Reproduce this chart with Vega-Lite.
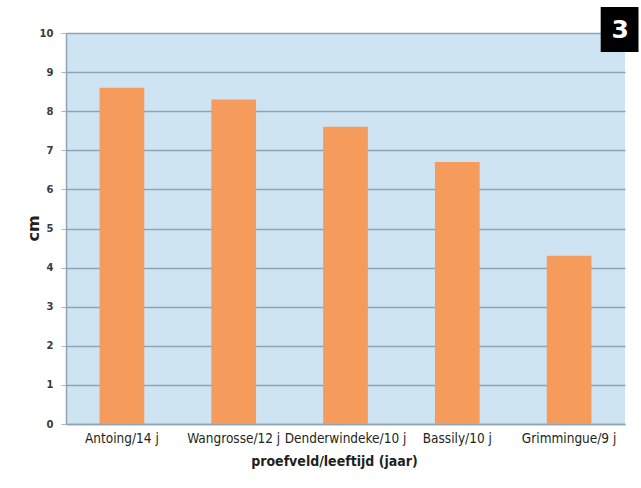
{
  "$schema": "https://vega.github.io/schema/vega-lite/v6.json",
  "width": 559,
  "height": 391,
  "autosize": {"type": "none"},
  "padding": {"left": 66, "top": 33, "right": 16, "bottom": 64},
  "background": "#ffffff",
  "config": {
    "view": {"fill": "#cfe4f3", "stroke": null}
  },
  "datasets": {
    "bars": [
      {"proefveld": "Antoing/14 j", "cm": 8.6},
      {"proefveld": "Wangrosse/12 j", "cm": 8.3},
      {"proefveld": "Denderwindeke/10 j", "cm": 7.6},
      {"proefveld": "Bassily/10 j", "cm": 6.7},
      {"proefveld": "Grimmingue/9 j", "cm": 4.3}
    ],
    "badge": [{"proefveld": "Grimmingue/9 j", "cm": 10.09, "label": "3"}]
  },
  "encoding": {
    "x": {
      "field": "proefveld",
      "type": "nominal",
      "sort": null,
      "scale": {"paddingInner": 0.6, "paddingOuter": 0.3},
      "axis": {
        "title": "proefveld/leeftijd (jaar)",
        "titleFont": "DejaVu Sans Condensed",
        "titleFontSize": 14,
        "titleFontWeight": "bold",
        "titleColor": "#231f20",
        "titlePadding": 10,
        "titleX": 268,
        "labelAngle": 0,
        "labelFont": "DejaVu Sans Condensed",
        "labelFontSize": 13.5,
        "labelColor": "#231f20",
        "labelPadding": 7,
        "ticks": false,
        "domainColor": "#8fa3b5",
        "domainWidth": 1.5
      }
    },
    "y": {
      "field": "cm",
      "type": "quantitative",
      "scale": {"domain": [0, 10]},
      "axis": {
        "title": "cm",
        "titleFont": "DejaVu Sans",
        "titleFontSize": 16,
        "titleFontWeight": "bold",
        "titleColor": "#231f20",
        "titleX": -33,
        "titleY": 195,
        "titleAngle": -90,
        "titleBaseline": "middle",
        "titleAlign": "center",
        "values": [0, 1, 2, 3, 4, 5, 6, 7, 8, 9, 10],
        "labelOverlap": false,
        "labelFont": "DejaVu Sans",
        "labelFontSize": 10,
        "labelFontWeight": "bold",
        "labelColor": "#3a3a3a",
        "labelPadding": 8,
        "tickSize": 5,
        "tickColor": "#a8b8c6",
        "grid": true,
        "gridColor": "#8fa3b5",
        "gridWidth": 1.5,
        "domainColor": "#8fa3b5",
        "domainWidth": 1.5
      }
    }
  },
  "layer": [
    {
      "data": {"name": "bars"},
      "mark": {"type": "bar", "color": "#f59b5c"}
    },
    {
      "data": {"name": "badge"},
      "mark": {
        "type": "point",
        "shape": "M-0.84,-1H0.84V1H-0.84Z",
        "size": 2025,
        "filled": true,
        "color": "#000000",
        "opacity": 1,
        "xOffset": 50.5,
        "clip": false
      }
    },
    {
      "data": {"name": "badge"},
      "mark": {
        "type": "text",
        "font": "DejaVu Sans",
        "fontSize": 25,
        "fontWeight": "bold",
        "color": "#ffffff",
        "baseline": "middle",
        "align": "center",
        "xOffset": 51,
        "yOffset": 1,
        "clip": false
      },
      "encoding": {
        "text": {"field": "label"}
      }
    }
  ]
}
